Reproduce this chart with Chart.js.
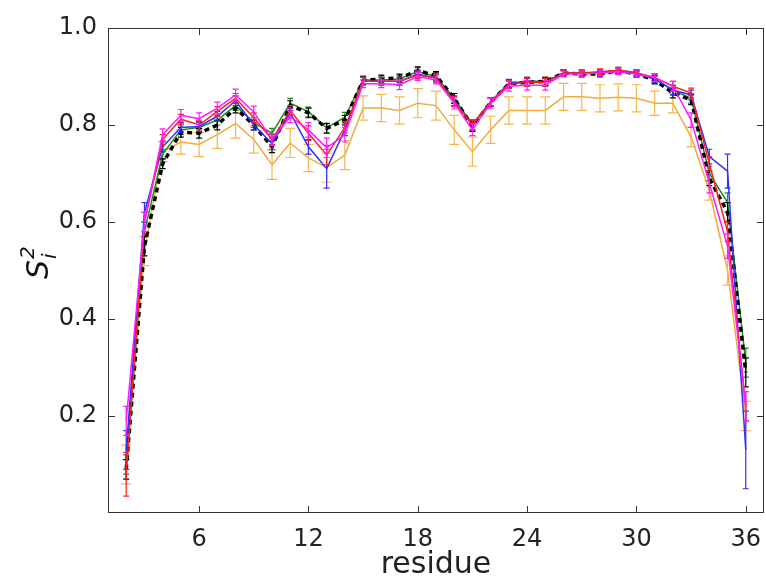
<!DOCTYPE html>
<html>
<head>
<meta charset="utf-8">
<script src="https://cdn.jsdelivr.net/npm/chart.js@4.4.0/dist/chart.umd.min.js"></script>
<style>
  html, body { margin: 0; padding: 0; background: #fff; }
</style>
</head>
<body>
<canvas id="s2Chart" width="766" height="580"></canvas>
<script>
// residues 2..36 and order parameters per run
const residues = [2, 3, 4, 5, 6, 7, 8, 9, 10, 11, 12, 13, 14, 15, 16, 17, 18, 19, 20,
  21, 22, 23, 24, 25, 26, 27, 28, 29, 30, 31, 32, 33, 34, 35, 36];
const xTicks = [6, 12, 18, 24, 30, 36];
const yTicks = [0.2, 0.4, 0.6, 0.8, 1.0];

const sGreen = [0.10, 0.58, 0.74, 0.79, 0.795, 0.81, 0.84, 0.805, 0.783, 0.845, 0.827, 0.794, 0.816, 0.893, 0.893, 0.895, 0.91, 0.90,
  0.855, 0.80, 0.848, 0.884, 0.89, 0.89, 0.907, 0.907, 0.908, 0.913, 0.907, 0.895, 0.872, 0.855, 0.70, 0.64, 0.31];
const sBlack = [0.09, 0.55, 0.72, 0.785, 0.783, 0.80, 0.835, 0.80, 0.755, 0.84, 0.825, 0.793, 0.81, 0.892, 0.895, 0.897, 0.912, 0.902,
  0.855, 0.797, 0.847, 0.885, 0.888, 0.89, 0.907, 0.905, 0.905, 0.912, 0.905, 0.893, 0.866, 0.852, 0.69, 0.62, 0.29];
const sBlue = [0.13, 0.62, 0.755, 0.795, 0.797, 0.818, 0.85, 0.80, 0.762, 0.825, 0.755, 0.71, 0.79, 0.89, 0.89, 0.89, 0.905, 0.897,
  0.85, 0.80, 0.848, 0.886, 0.89, 0.888, 0.907, 0.907, 0.907, 0.912, 0.905, 0.895, 0.872, 0.862, 0.735, 0.705, 0.13];
const sRed = [0.08, 0.60, 0.77, 0.812, 0.80, 0.828, 0.855, 0.815, 0.77, 0.83, 0.783, 0.738, 0.795, 0.89, 0.89, 0.89, 0.903, 0.897,
  0.848, 0.80, 0.848, 0.884, 0.888, 0.888, 0.907, 0.907, 0.91, 0.913, 0.908, 0.898, 0.88, 0.866, 0.72, 0.58, 0.22];
const sMagenta = [0.19, 0.60, 0.78, 0.82, 0.813, 0.835, 0.862, 0.827, 0.77, 0.817, 0.79, 0.753, 0.78, 0.885, 0.885, 0.883, 0.90, 0.893,
  0.845, 0.79, 0.845, 0.88, 0.882, 0.882, 0.905, 0.905, 0.907, 0.91, 0.905, 0.898, 0.88, 0.81, 0.68, 0.55, 0.22];
const sOrange = [0.10, 0.54, 0.745, 0.765, 0.76, 0.78, 0.803, 0.77, 0.718, 0.763, 0.732, 0.712, 0.738, 0.835, 0.835, 0.83, 0.845, 0.84,
  0.79, 0.745, 0.79, 0.83, 0.83, 0.83, 0.858, 0.858, 0.855, 0.857, 0.855, 0.845, 0.845, 0.775, 0.665, 0.50, 0.20];

// error bars (half widths)
const eGreen = [0.02, 0.02, 0.01, 0.01, 0.01, 0.01, 0.01, 0.01, 0.01, 0.01, 0.01, 0.01, 0.01, 0.008, 0.008, 0.008, 0.008, 0.008,
  0.01, 0.01, 0.008, 0.008, 0.008, 0.008, 0.006, 0.006, 0.006, 0.006, 0.006, 0.008, 0.01, 0.01, 0.015, 0.02, 0.03];
const eBlack = [0.02, 0.02, 0.01, 0.01, 0.01, 0.01, 0.01, 0.01, 0.012, 0.01, 0.01, 0.01, 0.01, 0.008, 0.008, 0.008, 0.008, 0.008,
  0.01, 0.01, 0.008, 0.008, 0.008, 0.008, 0.006, 0.006, 0.006, 0.006, 0.006, 0.008, 0.01, 0.01, 0.015, 0.02, 0.03];
const eBlue = [0.04, 0.02, 0.01, 0.01, 0.01, 0.01, 0.01, 0.01, 0.012, 0.01, 0.015, 0.04, 0.012, 0.008, 0.008, 0.008, 0.008, 0.008,
  0.01, 0.01, 0.008, 0.008, 0.008, 0.008, 0.006, 0.006, 0.006, 0.006, 0.006, 0.008, 0.01, 0.01, 0.015, 0.035, 0.08];
const eRed = [0.045, 0.02, 0.01, 0.01, 0.01, 0.01, 0.01, 0.01, 0.01, 0.01, 0.015, 0.02, 0.012, 0.008, 0.008, 0.008, 0.008, 0.008,
  0.01, 0.01, 0.008, 0.008, 0.008, 0.008, 0.006, 0.006, 0.006, 0.006, 0.006, 0.008, 0.01, 0.01, 0.015, 0.02, 0.03];
const eMagenta = [0.03, 0.02, 0.012, 0.012, 0.012, 0.012, 0.012, 0.012, 0.012, 0.012, 0.015, 0.02, 0.015, 0.008, 0.008, 0.01, 0.008, 0.008,
  0.012, 0.012, 0.01, 0.01, 0.01, 0.01, 0.006, 0.006, 0.006, 0.006, 0.006, 0.008, 0.01, 0.015, 0.02, 0.025, 0.03];
const eOrange = [0.04, 0.03, 0.02, 0.025, 0.025, 0.028, 0.03, 0.028, 0.03, 0.03, 0.028, 0.03, 0.03, 0.025, 0.028, 0.028, 0.03, 0.03,
  0.03, 0.03, 0.028, 0.028, 0.028, 0.028, 0.028, 0.028, 0.028, 0.028, 0.028, 0.025, 0.02, 0.02, 0.02, 0.03, 0.03];

function pts(vals) {
  return vals.map((v, i) => ({ x: residues[i], y: v }));
}

// error bars drawn right after each line so the stacking stays right
const errorBars = {
  id: "errorBars",
  afterDatasetDraw(chart, args) {
    const ds = chart.data.datasets[args.index];
    if (!ds.errors) return;
    const xs = chart.scales.x, ys = chart.scales.y, c = chart.ctx;
    const cap = ds.capHalf || 3;
    c.save();
    c.strokeStyle = ds.errorColor || ds.borderColor;
    c.lineWidth = 1.2;
    ds.data.forEach((p, i) => {
      const e = ds.errors[i];
      const px = xs.getPixelForValue(p.x);
      const top = ys.getPixelForValue(p.y + e);
      const bot = ys.getPixelForValue(p.y - e);
      c.beginPath();
      c.moveTo(px, top); c.lineTo(px, bot);
      c.moveTo(px - cap, top); c.lineTo(px + cap, top);
      c.moveTo(px - cap, bot); c.lineTo(px + cap, bot);
      c.stroke();
    });
    c.restore();
  },
};

// box around the plot with inward ticks, like the matplotlib classic style
const frame = {
  id: "frame",
  afterDatasetsDraw(chart) {
    const { ctx: c, chartArea: a } = chart;
    const xs = chart.scales.x, ys = chart.scales.y;
    c.save();
    c.strokeStyle = "#333";
    c.lineWidth = 1;
    c.strokeRect(a.left + 0.5, a.top + 0.5, a.right - a.left - 1, a.bottom - a.top - 1);
    c.beginPath();
    xTicks.forEach((t) => {
      const px = Math.round(xs.getPixelForValue(t)) + 0.5;
      c.moveTo(px, a.bottom); c.lineTo(px, a.bottom - 7);
      c.moveTo(px, a.top); c.lineTo(px, a.top + 7);
    });
    yTicks.forEach((t) => {
      const py = Math.round(ys.getPixelForValue(t)) + 0.5;
      c.moveTo(a.left, py); c.lineTo(a.left + 7, py);
      c.moveTo(a.right, py); c.lineTo(a.right - 7, py);
    });
    c.stroke();
    c.restore();
  },
  afterDraw(chart) {
    // y label S_i^2, rotated
    const c = chart.ctx;
    c.save();
    c.translate(48, 279);
    c.rotate(-Math.PI / 2);
    c.fillStyle = "#111";
    c.textBaseline = "alphabetic";
    c.font = "italic 30px 'DejaVu Sans'";
    c.fillText("S", 0, 0);
    const w = c.measureText("S").width;
    c.font = "italic 20px 'DejaVu Sans'";
    c.fillText("2", w + 1, -14);
    c.fillText("i", w + 1, 8);
    c.restore();
  },
};

function line(vals, errs, color, extra) {
  return Object.assign({
    data: pts(vals),
    errors: errs,
    borderColor: color,
    borderWidth: 1.5,
    pointRadius: 0,
    tension: 0,
    fill: false,
  }, extra || {});
}

const ctx = document.getElementById("s2Chart").getContext("2d");
new Chart(ctx, {
  type: "line",
  data: {
    // first dataset is painted last (on top)
    datasets: [
      line(sMagenta, eMagenta, "#ff1aff"),
      line(sRed, eRed, "#ff2020"),
      line(sBlue, eBlue, "#3030ff"),
      line(sBlack, eBlack, "#000000", { borderWidth: 3.5, borderDash: [5, 4] }),
      line(sGreen, eGreen, "#1e8c1e"),
      line(sOrange, eOrange, "#f2ab3a", { capHalf: 5, errorColor: "#f4b650" }),
    ],
  },
  options: {
    responsive: false,
    devicePixelRatio: 1,
    animation: false,
    layout: { padding: { top: 28, right: 2, left: 0, bottom: 0 } },
    plugins: {
      legend: { display: false },
      tooltip: { enabled: false },
    },
    scales: {
      x: {
        type: "linear",
        min: 1,
        max: 37,
        afterBuildTicks: (s) => { s.ticks = xTicks.map((v) => ({ value: v })); },
        afterFit: (s) => { s.height = 67; s.paddingLeft = 0; s.paddingRight = 0; },
        grid: { display: false, drawTicks: false },
        border: { display: false },
        ticks: { color: "#222", padding: 12, maxRotation: 0, font: { family: "DejaVu Sans", size: 24 } },
        title: {
          display: true,
          text: "residue",
          color: "#222",
          padding: { top: 0, bottom: 0 },
          font: { family: "DejaVu Sans", size: 30, lineHeight: 1 },
        },
      },
      y: {
        min: 0,
        max: 1,
        afterBuildTicks: (s) => { s.ticks = yTicks.map((v) => ({ value: v })); },
        afterFit: (s) => { s.width = 108; s.paddingTop = 0; s.paddingBottom = 0; },
        grid: { display: false, drawTicks: false },
        border: { display: false },
        ticks: {
          color: "#222",
          padding: 11,
          font: { family: "DejaVu Sans", size: 24 },
          callback: (v) => v.toFixed(1),
        },
      },
    },
  },
  plugins: [errorBars, frame],
});
</script>
</body>
</html>
